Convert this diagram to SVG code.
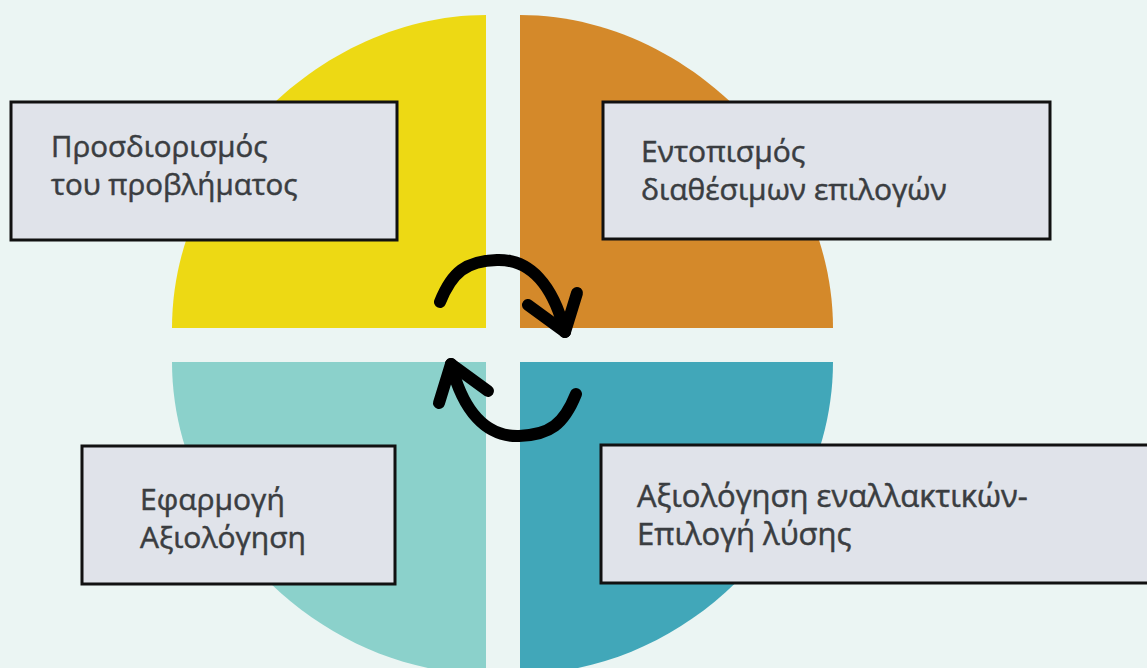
<svg xmlns="http://www.w3.org/2000/svg" width="1147" height="668" viewBox="0 0 1147 668">
<defs>
<style>
.box{fill:#E0E3EA;stroke:#111;stroke-width:3}
.lbl{font-family:"Open Sans","Noto Sans","DejaVu Sans",sans-serif;font-size:30px;font-weight:500;fill:#3A3D41;stroke:#3A3D41;stroke-width:0.5}
.arr{fill:none;stroke:#000;stroke-width:12;stroke-linecap:round;stroke-linejoin:round}
</style>
</defs>
<rect x="0" y="0" width="1147" height="668" fill="#EBF5F3"/>
<g id="quadrants">
<path id="q-yellow" d="M486,328 L172,328 C172,163 321,15 486,15 Z" fill="#EDD914"/>
<path id="q-orange" d="M520,328 L833,328 C833,163 685,15 520,15 Z" fill="#D4892A"/>
<path id="q-lightteal" d="M486,362 L172,362 C172,528 321,674 486,674 Z" fill="#8BD1CB"/>
<path id="q-teal" d="M520,362 L833,362 C833,528 685,674 520,674 Z" fill="#41A7B9"/>
</g>
<g id="connectors">
<g id="cycle-top">
<path class="arr" d="M440,302 C452,272 466,261 497,260 C530,259 553,285 565,332"/>
<path class="arr" d="M528,305 L565,332 L577,293"/>
</g>
<g id="cycle-bottom" transform="rotate(180 508 348)">
<path class="arr" d="M440,302 C452,272 466,261 497,260 C530,259 553,285 565,332"/>
<path class="arr" d="M528,305 L565,332 L577,293"/>
</g>
</g>
<g id="node1">
<rect class="box" x="11" y="102" width="386" height="138"/>
<text class="lbl" x="51" y="157" style="font-size:29.5px">Προσδιορισμός</text>
<text class="lbl" x="51" y="195" style="font-size:29.5px">του προβλήματος</text>
</g>
<g id="node2">
<rect class="box" x="603" y="102" width="447" height="137"/>
<text class="lbl" x="641" y="162">Εντοπισμός</text>
<text class="lbl" x="641" y="200">διαθέσιμων επιλογών</text>
</g>
<g id="node3">
<rect class="box" x="82" y="446" width="313" height="138"/>
<text class="lbl" x="140" y="510">Εφαρμογή</text>
<text class="lbl" x="140" y="548">Αξιολόγηση</text>
</g>
<g id="node4">
<rect class="box" x="601" y="445" width="560" height="138"/>
<text class="lbl" x="637" y="507" style="font-size:31px">Αξιολόγηση εναλλακτικών-</text>
<text class="lbl" x="637" y="545" style="font-size:31px">Επιλογή λύσης</text>
</g>
</svg>
